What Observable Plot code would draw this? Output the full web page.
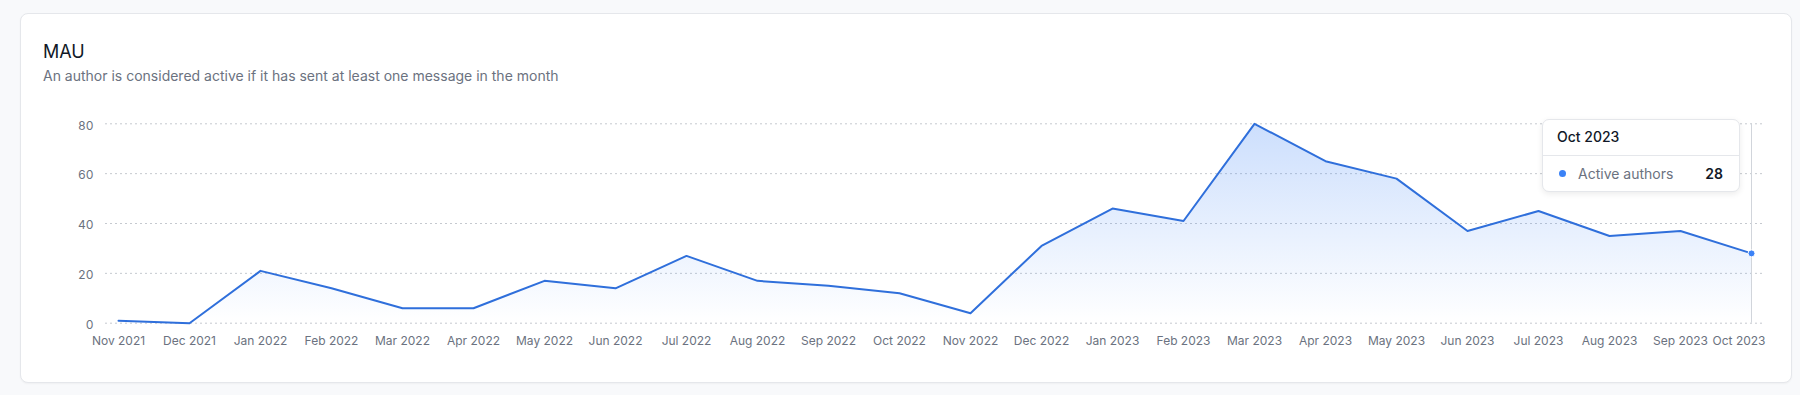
<!DOCTYPE html>
<html>
<head>
<meta charset="utf-8">
<script src="https://cdn.jsdelivr.net/npm/d3@7"></script>
<script src="https://cdn.jsdelivr.net/npm/@observablehq/plot@0.6"></script>
<style>
  html, body { margin: 0; padding: 0; }
  body { width: 1800px; height: 395px; background: #f8f9fb; position: relative; overflow: hidden; font-family: Inter, "Noto Sans", sans-serif; }
  .card { position: absolute; left: 20px; top: 13px; width: 1772px; height: 370px; box-sizing: border-box; background: #fff; border: 1px solid #e5e7eb; border-radius: 8px; box-shadow: 0 1px 2px rgba(0,0,0,0.04); }
  .title { position: absolute; left: 43px; top: 43px; font-size: 18px; line-height: 18px; color: #111827; font-weight: 400; }
  .subtitle { position: absolute; left: 43px; top: 69px; font-size: 14px; line-height: 14px; color: #6b7280; }
  #chart { position: absolute; left: 0; top: 0; }
  .tip { position: absolute; background: #fff; border: 1px solid #e5e7eb; border-radius: 7px; box-shadow: 0 2px 6px rgba(0,0,0,0.08); box-sizing: border-box; }
  .tip .hd { position: absolute; left: 14px; top: 10px; font-size: 14px; line-height: 14px; color: #111827; font-weight: 500; }
  .tip .sep { position: absolute; left: 0; right: 0; top: 35px; height: 1px; background: #e5e7eb; }
  .tip .dot { position: absolute; left: 16px; top: 50px; width: 7px; height: 7px; border-radius: 50%; background: #3b82f6; }
  .tip .lbl { position: absolute; left: 35px; top: 47px; font-size: 14px; line-height: 14px; color: #6b7280; }
  .tip .val { position: absolute; right: 16px; top: 47px; font-size: 14px; line-height: 14px; color: #111827; font-weight: 600; }
</style>
</head>
<body>
<div class="card"></div>
<div class="title">MAU</div>
<div class="subtitle">An author is considered active if it has sent at least one message in the month</div>
<div id="chart"></div>
<script>
const months = ["Nov 2021","Dec 2021","Jan 2022","Feb 2022","Mar 2022","Apr 2022","May 2022","Jun 2022","Jul 2022","Aug 2022","Sep 2022","Oct 2022","Nov 2022","Dec 2022","Jan 2023","Feb 2023","Mar 2023","Apr 2023","May 2023","Jun 2023","Jul 2023","Aug 2023","Sep 2023","Oct 2023"];
const activeAuthors = [1,0,21,14,6,6,17,14,27,17,15,12,4,31,46,41,80,65,58,37,45,35,37,28];
const yTicks = [0,20,40,60,80];
const seriesName = "Active authors";

const data = months.map((m, i) => ({month: m, value: activeAuthors[i]}));
const last = data[data.length - 1];

const defs = () => {
  const d = d3.create("svg:defs");
  const g = d.append("linearGradient").attr("id", "mau-grad").attr("x1", 0).attr("y1", 0).attr("x2", 0).attr("y2", 1);
  g.append("stop").attr("offset", "0%").attr("stop-color", "#3b82f6").attr("stop-opacity", 0.26);
  g.append("stop").attr("offset", "100%").attr("stop-color", "#3b82f6").attr("stop-opacity", 0.0);
  return d.node();
};

const chart = Plot.plot({
  width: 1800,
  height: 395,
  marginLeft: 105,
  marginRight: 37,
  marginTop: 123.3,
  marginBottom: 72.3,
  style: {background: "transparent", fontFamily: "Inter, 'Noto Sans', sans-serif", fontSize: "12px", color: "#6b7280", overflow: "visible"},
  x: {type: "point", domain: months, padding: 0.14},
  y: {domain: [0, 80]},
  marks: [
    defs,
    Plot.ruleY(yTicks, {stroke: "#c5c9cf", strokeDasharray: "2,3", strokeWidth: 1}),
    Plot.areaY(data, {x: "month", y: "value", fill: "url(#mau-grad)"}),
    Plot.ruleX([last], {x: "month", y1: 0, y2: 80, stroke: "#d1d5db", strokeWidth: 1}),
    Plot.lineY(data, {x: "month", y: "value", stroke: "#2f6fdb", strokeWidth: 2}),
    Plot.dot([last], {x: "month", y: "value", r: 3.5, fill: "#3b82f6", stroke: "#fff", strokeWidth: 1}),
    Plot.axisY(yTicks, {tickSize: 0, tickPadding: 12, label: null, fill: "#6b7280", fontSize: 12, dy: 2}),
    Plot.axisX(months.slice(0, -1), {tickSize: 0, tickPadding: 13, label: null, fill: "#6b7280", fontSize: 12}),
    Plot.axisX([last.month], {tickSize: 0, tickPadding: 13, label: null, fill: "#6b7280", fontSize: 12, textAnchor: "end", dx: 14})
  ]
});
document.getElementById("chart").appendChild(chart);

// tooltip for the last (hovered) month
const px = chart.scale("x").apply(last.month);
const tip = document.createElement("div");
tip.className = "tip";
tip.style.left = (px - 209) + "px";
tip.style.top = "119px";
tip.style.width = "198px";
tip.style.height = "73px";
tip.innerHTML = `<div class="hd"></div><div class="sep"></div><div class="dot"></div><div class="lbl"></div><div class="val"></div>`;
tip.querySelector(".hd").textContent = last.month;
tip.querySelector(".lbl").textContent = seriesName;
tip.querySelector(".val").textContent = String(last.value);
document.body.appendChild(tip);
</script>
</body>
</html>
